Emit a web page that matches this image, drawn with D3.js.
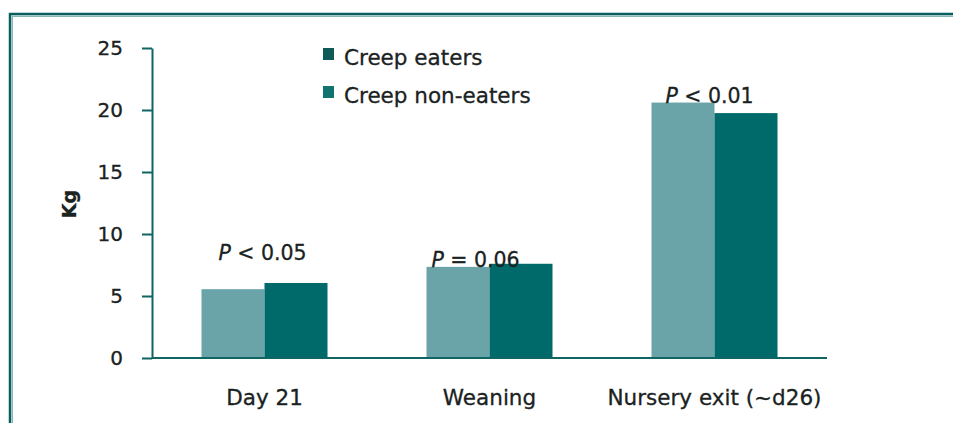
<!DOCTYPE html>
<html>
<head>
<meta charset="utf-8">
<script src="https://cdn.jsdelivr.net/npm/d3@7"></script>
<style>
    body { margin: 0; background: #fff; }
    svg { display: block; font-family: "DejaVu Sans", sans-serif; }
    text { stroke: #1a2222; stroke-width: 0.3px; }
</style>
</head>
<body>
<svg id="chart" width="953" height="423"></svg>
<script>
const categories = ["Day 21", "Weaning", "Nursery exit (~d26)"]
const seriesNames = ["Creep eaters", "Creep non-eaters"]
const nonEaters = [5.55, 7.35, 20.6]
const eaters = [6.05, 7.6, 19.75]
const pLabels = ["< 0.05", "= 0.06", "< 0.01"]
const yTicks = [0, 5, 10, 15, 20, 25]

const svg = d3.select("#chart")
const W = 953, H = 423

const teal = "#0f6464"
const lightBar = "#6aa3a8"
const darkBar = "#006a6a"
const ink = "#1a2222"

// outer frame (only top and left visible)
svg.append("path")
    .attr("d", `M10,${H} L10,14 L${W},14`)
    .attr("fill", "none")
    .attr("stroke", "#0b5e60")
    .attr("stroke-width", 2.5)
svg.append("path")
    .attr("d", `M12.3,${H} L12.3,16.3 L${W},16.3`)
    .attr("fill", "none")
    .attr("stroke", "#86b5b6")
    .attr("stroke-width", 1.4)

const x0 = d3.scaleBand()
    .domain(categories)
    .range([152, 827])
    .paddingInner(0.44)
    .paddingOuter(0.22)

const x1 = d3.scaleBand()
    .domain(["non", "eat"])
    .range([0, x0.bandwidth()])

const y = d3.scaleLinear()
    .domain([0, 25])
    .range([358, 48])

// bars
const groups = svg.selectAll(".grp")
    .data(categories)
    .join("g")
    .attr("class", "grp")
    .attr("transform", d => `translate(${x0(d)},0)`)

groups.append("rect")
    .attr("x", x1("non"))
    .attr("width", x1.bandwidth())
    .attr("y", (d, i) => y(nonEaters[i]))
    .attr("height", (d, i) => y(0) - y(nonEaters[i]))
    .attr("fill", lightBar)

groups.append("rect")
    .attr("x", x1("eat"))
    .attr("width", x1.bandwidth())
    .attr("y", (d, i) => y(eaters[i]))
    .attr("height", (d, i) => y(0) - y(eaters[i]))
    .attr("fill", darkBar)

// y axis
const yAxis = svg.append("g")
    .attr("transform", "translate(152,0)")
    .call(d3.axisLeft(y).tickValues(yTicks).tickSize(10).tickSizeOuter(0).tickPadding(19))
yAxis.selectAll("path, line").attr("stroke", teal).attr("stroke-width", 2)
yAxis.selectAll("text")
    .attr("fill", ink)
    .style("font-size", "20px")
    .style("font-family", "DejaVu Sans")

// x baseline
svg.append("line")
    .attr("x1", 152).attr("x2", 827)
    .attr("y1", y(0)).attr("y2", y(0))
    .attr("stroke", teal)
    .attr("stroke-width", 2)

// category labels
svg.selectAll(".cat")
    .data(categories)
    .join("text")
    .attr("class", "cat")
    .attr("x", d => x0(d) + x0.bandwidth() / 2)
    .attr("y", 405)
    .attr("text-anchor", "middle")
    .attr("fill", ink)
    .style("font-size", "21.5px")
    .text(d => d)

// y label
svg.append("text")
    .attr("transform", "translate(76,204) rotate(-90)")
    .attr("text-anchor", "middle")
    .attr("fill", ink)
    .style("font-size", "19px")
    .style("font-weight", "bold")
    .text("Kg")

// p-value labels, offsets tuned per group
const pOffsets = [{dx: -2, dy: -23}, {dx: -14, dy: 3}, {dx: -5, dy: 0}]
const pText = svg.selectAll(".pval")
    .data(categories)
    .join("text")
    .attr("class", "pval")
    .attr("x", (d, i) => x0(d) + x0.bandwidth() / 2 + pOffsets[i].dx)
    .attr("y", (d, i) => y(Math.max(eaters[i], nonEaters[i])) + pOffsets[i].dy)
    .attr("text-anchor", "middle")
    .attr("fill", ink)
    .style("font-size", "20.5px")
pText.append("tspan").style("font-style", "italic").text("P")
pText.append("tspan").text((d, i) => " " + pLabels[i])

// legend
const legend = svg.append("g").attr("transform", "translate(323,48)")
const legColors = ["#0d5a58", "#127270"]
seriesNames.forEach((name, i) => {
    const row = legend.append("g").attr("transform", `translate(0,${i * 38})`)
    row.append("rect")
        .attr("width", 11).attr("height", 12)
        .attr("fill", legColors[i])
    row.append("text")
        .attr("x", 21).attr("y", 17)
        .attr("fill", ink)
        .style("font-size", "21.5px")
        .text(name)
})
</script>
</body>
</html>
